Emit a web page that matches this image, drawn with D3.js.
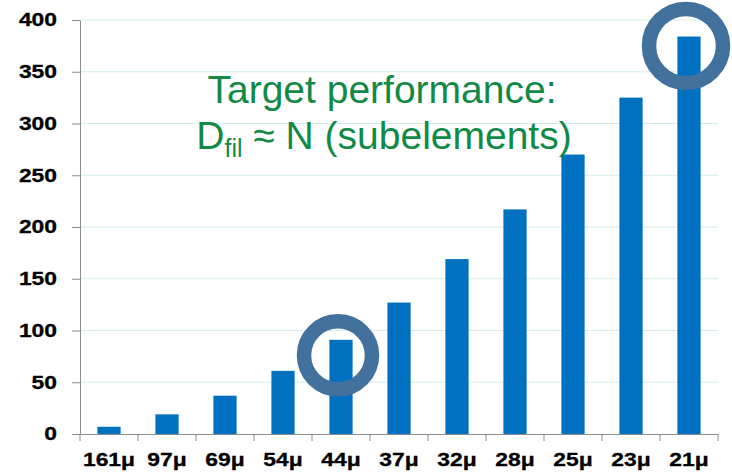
<!DOCTYPE html>
<html><head><meta charset="utf-8">
<script src="https://cdn.jsdelivr.net/npm/d3@7"></script>
<style>html,body{margin:0;padding:0;background:#fff;}</style>
</head><body>
<svg id="chart" width="732" height="476"></svg>
<script>
const categories = ["161μ","97μ","69μ","54μ","44μ","37μ","32μ","28μ","25μ","23μ","21μ"];
const values = [7, 19, 37, 61, 91, 127, 169, 217, 270, 325, 384];
const yTicks = [0, 50, 100, 150, 200, 250, 300, 350, 400];
const highlightCats = ["44μ", "21μ"];
const highlightVals = [76, 375];
const titleLine1 = "Target performance:";
const titleLine2 = ["D", "fil", " ≈ N (subelements)"];

const svg = d3.select("#chart");
const W = 732, H = 476;
const m = {top: 20, right: 14, bottom: 42, left: 80};
const font = "'Liberation Sans', Arial, sans-serif";
const stretch = 1.27;

const x = d3.scaleBand().domain(categories).range([m.left, W - m.right]).paddingInner(0.6).paddingOuter(0.3);
const y = d3.scaleLinear().domain([0, 400]).range([H - m.bottom, m.top]);

// gridlines
svg.append("g").selectAll("line").data(yTicks.filter(d => d > 0)).join("line")
  .attr("x1", m.left).attr("x2", W - m.right)
  .attr("y1", d => y(d)).attr("y2", d => y(d))
  .attr("stroke", "#d6ecef").attr("stroke-width", 1.2);

// bars
svg.append("g").selectAll("rect").data(values).join("rect")
  .attr("x", (d, i) => x(categories[i]))
  .attr("y", d => y(d))
  .attr("width", x.bandwidth())
  .attr("height", d => y(0) - y(d))
  .attr("fill", "#0070c0");

// y axis
const yAxis = svg.append("g").attr("transform", `translate(${m.left},0)`)
  .call(d3.axisLeft(y).tickValues(yTicks).tickSize(8).tickSizeOuter(0));
yAxis.select(".domain").attr("stroke", "#8c8c8c");
yAxis.selectAll(".tick line").attr("stroke", "#8c8c8c");
yAxis.selectAll(".tick text")
  .attr("x", 0).attr("dy", "0.33em")
  .attr("transform", `translate(-23,0) scale(${stretch},1)`)
  .attr("font-family", font).attr("font-weight", "bold").attr("font-size", 18)
  .attr("fill", "#000").attr("stroke", "#000").attr("stroke-width", 0.3).attr("text-anchor", "end");

// x axis
const xAxis = svg.append("g").attr("transform", `translate(0,${y(0)})`)
  .call(d3.axisBottom(x).tickSize(0).tickSizeOuter(0));
xAxis.select(".domain").attr("stroke", "#8c8c8c");
xAxis.selectAll(".tick text")
  .attr("y", 0).attr("dy", 0)
  .attr("transform", `translate(0,32) scale(${stretch},1)`)
  .attr("font-family", font).attr("font-weight", "bold").attr("font-size", 18)
  .attr("fill", "#000").attr("stroke", "#000").attr("stroke-width", 0.3);
// category boundary ticks
svg.append("g").selectAll("line").data(d3.range(categories.length + 1)).join("line")
  .attr("x1", i => x.range()[0] + i * x.step()).attr("x2", i => x.range()[0] + i * x.step())
  .attr("y1", y(0)).attr("y2", y(0) + 7)
  .attr("stroke", "#8c8c8c");

// highlight circles
svg.append("g").selectAll("circle").data(highlightCats).join("circle")
  .attr("cx", (c, i) => x(c) + x.bandwidth() / 2 - 3)
  .attr("cy", (c, i) => y(highlightVals[i]))
  .attr("r", (c, i) => i === 0 ? 34 : 37)
  .attr("fill", "none")
  .attr("stroke", "#41719c")
  .attr("stroke-width", 14.5);

// title
const t = svg.append("g").attr("font-family", font).attr("fill", "#118a47").attr("text-anchor", "middle");
t.append("text").attr("x", 382).attr("y", 103).attr("font-size", 39).text(titleLine1);
const t2 = t.append("text").attr("x", 384).attr("y", 149).attr("font-size", 39);
t2.append("tspan").text(titleLine2[0]);
t2.append("tspan").attr("font-size", 25).attr("dy", 8).text(titleLine2[1]);
t2.append("tspan").attr("dy", -8).text(titleLine2[2]);
</script>
</body></html>
